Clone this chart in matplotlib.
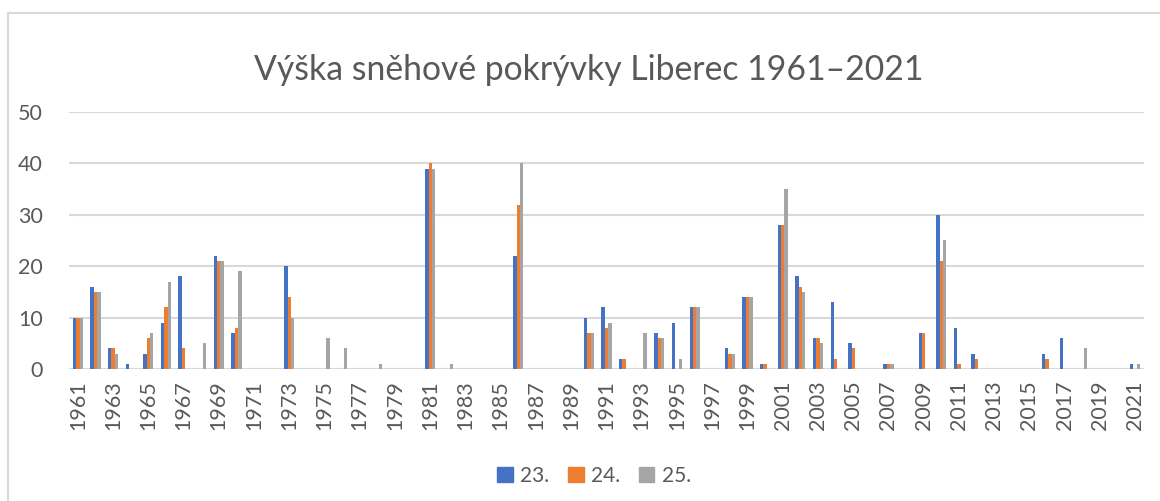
import matplotlib
matplotlib.use("Agg")
import matplotlib.pyplot as plt
from matplotlib.lines import Line2D
import numpy as np

years = list(range(1961, 2022))

# snow depth (cm) on 23., 24. and 25. December
d23 = [10, 16, 4, 1, 3, 9, 18, 0, 22, 7,
       0, 0, 20, 0, 0, 0, 0, 0, 0, 0,
       39, 0, 0, 0, 0, 22, 0, 0, 0, 10,
       12, 2, 0, 7, 9, 12, 0, 4, 14, 1,
       28, 18, 6, 13, 5, 0, 1, 0, 7, 30,
       8, 3, 0, 0, 0, 3, 6, 0, 0, 0,
       1]
d24 = [10, 15, 4, 0, 6, 12, 4, 0, 21, 8,
       0, 0, 14, 0, 0, 0, 0, 0, 0, 0,
       40, 0, 0, 0, 0, 32, 0, 0, 0, 7,
       8, 2, 0, 6, 0, 12, 0, 3, 14, 1,
       28, 16, 6, 2, 4, 0, 1, 0, 7, 21,
       1, 2, 0, 0, 0, 2, 0, 0, 0, 0,
       0]
d25 = [10, 15, 3, 0, 7, 17, 0, 5, 21, 19,
       0, 0, 10, 0, 6, 4, 0, 1, 0, 0,
       39, 1, 0, 0, 0, 40, 0, 0, 0, 7,
       9, 0, 7, 6, 2, 12, 0, 3, 14, 0,
       35, 15, 5, 0, 0, 0, 1, 0, 0, 25,
       0, 0, 0, 0, 0, 0, 0, 4, 0, 0,
       1]
series = [("23.", d23, "#4472C4"), ("24.", d24, "#ED7D31"), ("25.", d25, "#A5A5A5")]
title = "Výška sněhové pokrývky Liberec 1961–2021"

txt = "#595959"
grid = "#D9D9D9"
plt.rcParams['font.family'] = ['Lato', 'DejaVu Sans']

fig = plt.figure(figsize=(11.6, 5.01), dpi=100)
ax = fig.add_axes([69 / 1160, 132 / 501, (1144 - 69) / 1160, 257 / 501])

x = np.arange(len(years))
w = 1 / 5.19
for i, (name, vals, col) in enumerate(series):
    ax.bar(x + (i - 1) * w, vals, width=w, color=col, label=name, zorder=3)

ax.set_xlim(-0.5, len(years) - 0.5)
ax.set_ylim(0, 50)
ax.set_yticks(range(0, 51, 10))
ax.set_xticks(x[::2])
ax.set_xticklabels([str(y) for y in years[::2]], rotation=90)
ax.tick_params(axis='both', length=0, labelsize=15.5, colors=txt)
ax.tick_params(axis='y', pad=19)
ax.tick_params(axis='x', pad=8)
for s in ax.spines.values():
    s.set_visible(False)
ax.yaxis.grid(True, color=grid, linewidth=1.5, zorder=0)
ax.axhline(0, color=grid, linewidth=1.5, zorder=1)

fig.text(589 / 1160, 1 - 70 / 501, title, ha='center', va='center',
         fontsize=24.3, color=txt)

handles = [plt.Rectangle((0, 0), 1, 1, color=c) for _, _, c in series]
fig.legend(handles, [n for n, _, _ in series], loc='center',
           bbox_to_anchor=(594 / 1160, 1 - 476 / 501), ncol=3, frameon=False,
           fontsize=15, labelcolor=txt, handlelength=0.75, handleheight=0.75,
           handletextpad=0.35, columnspacing=0.9)

# chart border (top and left edges are visible)
fig.add_artist(Line2D([8 / 1160, 8 / 1160], [0, 1 - 13 / 501], color=grid,
                      linewidth=1.5, transform=fig.transFigure))
fig.add_artist(Line2D([8 / 1160, 1], [1 - 13 / 501, 1 - 13 / 501], color=grid,
                      linewidth=1.5, transform=fig.transFigure))

fig.savefig("out.png", dpi=100)
